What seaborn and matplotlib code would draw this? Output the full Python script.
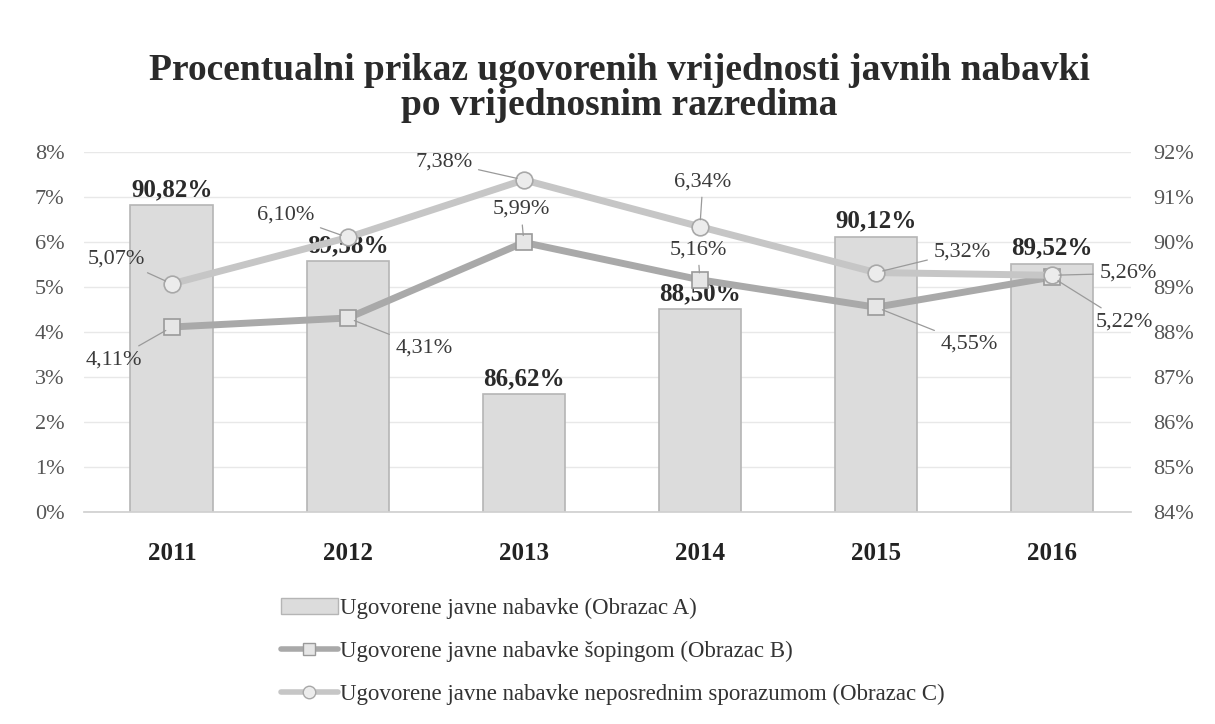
import numpy as np
import pandas as pd
import matplotlib
matplotlib.use("Agg")
import matplotlib.pyplot as plt
import seaborn as sns
from matplotlib.patches import Patch
from matplotlib.lines import Line2D

years = ["2011", "2012", "2013", "2014", "2015", "2016"]
obrazac_a = [90.82, 89.58, 86.62, 88.50, 90.12, 89.52]
obrazac_b = [4.11, 4.31, 5.99, 5.16, 4.55, 5.22]
obrazac_c = [5.07, 6.10, 7.38, 6.34, 5.32, 5.26]
left_ticks = [0, 1, 2, 3, 4, 5, 6, 7, 8]
right_ticks = [84, 85, 86, 87, 88, 89, 90, 91, 92]
legend_labels = [
    "Ugovorene javne nabavke (Obrazac A)",
    "Ugovorene javne nabavke šopingom (Obrazac B)",
    "Ugovorene javne nabavke neposrednim sporazumom (Obrazac C)",
]
title = "Procentualni prikaz ugovorenih vrijednosti javnih nabavki\npo vrijednosnim razredima"

sns.set_theme(style="white")
plt.rcParams["font.family"] = ["Liberation Serif", "DejaVu Serif"]

fig = plt.figure(figsize=(12.15, 7.24), dpi=100)
ax = fig.add_axes([0.069, 0.293, 0.862, 0.497])
ax2 = ax.twinx()

bar_color = "#dcdcdc"
bar_edge = "#b5b5b5"
b_color = "#a9a9a9"
c_color = "#c6c6c6"
txt = "#3a3a3a"

df_a = pd.DataFrame({"year": years, "val": obrazac_a})
sns.barplot(data=df_a, x="year", y="val", ax=ax2, color=bar_color, saturation=1,
            edgecolor=bar_edge, linewidth=1.2, width=0.47)

pos = np.arange(len(years))
df_l = pd.DataFrame({"pos": np.concatenate([pos, pos]),
                     "val": obrazac_b + obrazac_c,
                     "s": ["B"] * len(years) + ["C"] * len(years)})
sns.lineplot(data=df_l[df_l.s == "B"], x="pos", y="val", ax=ax, color=b_color,
             linewidth=5, marker="s", markersize=11, markerfacecolor="#e6e6e6",
             markeredgecolor="#9a9a9a", markeredgewidth=1.2)
sns.lineplot(data=df_l[df_l.s == "C"], x="pos", y="val", ax=ax, color=c_color,
             linewidth=5, marker="o", markersize=12, markerfacecolor="#ececec",
             markeredgecolor="#a8a8a8", markeredgewidth=1.2)

ax.set_zorder(ax2.get_zorder() + 1)
ax.patch.set_visible(False)

ax.set_xlim(-0.5, 5.45)
ax.set_ylim(0, 8)
ax2.set_ylim(84, 92)
ax.set_yticks(left_ticks)
ax.set_yticklabels([f"{t}%" for t in left_ticks])
ax2.set_yticks(right_ticks)
ax2.set_yticklabels([f"{t}%" for t in right_ticks])
ax.set_xticks(pos)
ax.set_xticklabels(years)
ax2.set_xticks(pos)
ax2.set_xticklabels(years)

ax2.grid(axis="y", color="#e8e8e8", linewidth=1)
ax.grid(False)
for a in (ax, ax2):
    for s in a.spines.values():
        s.set_visible(False)
    a.set_xlabel("")
    a.set_ylabel("")
ax2.spines["bottom"].set_visible(True)
ax2.spines["bottom"].set_color("#d0d0d0")

ax.tick_params(axis="y", length=0, labelsize=16, labelcolor="#555555", pad=14)
ax2.tick_params(axis="y", length=0, labelsize=16, labelcolor="#555555", pad=16)
ax.tick_params(axis="x", length=0, labelsize=18, pad=22)
ax2.tick_params(axis="x", length=0, labelbottom=False)
for lab in ax.get_xticklabels():
    lab.set_fontweight("bold")
    lab.set_color("#222222")

# bar labels
for i, v in enumerate(obrazac_a):
    ax2.annotate(f"{v:.2f}%".replace(".", ","), (i, v), xytext=(0, 4),
                 textcoords="offset pixels", ha="center", va="bottom",
                 fontsize=18, fontweight="bold", color="#2a2a2a")

# line labels with leader lines (offsets in pixels)
b_off = [(-58, -33), (76, -30), (-3, 33), (-2, 30), (93, -37), (72, -45)]
c_off = [(-55, 25), (-62, 22), (-80, 18), (3, 45), (86, 21), (76, 2)]
for vals, offs in ((obrazac_b, b_off), (obrazac_c, c_off)):
    for i, (v, (dx, dy)) in enumerate(zip(vals, offs)):
        ax.annotate(f"{v:.2f}%".replace(".", ","), (i, v), xytext=(dx, dy),
                    textcoords="offset pixels", ha="center", va="center",
                    fontsize=16, color=txt,
                    arrowprops=dict(arrowstyle="-", color="#9a9a9a", lw=0.9,
                                    shrinkA=2, shrinkB=5))

fig.text(0.51, 0.878, title, ha="center", va="center", fontsize=27,
         fontweight="bold", color="#2a2a2a", linespacing=1.0)

handles = [
    Patch(facecolor=bar_color, edgecolor=bar_edge),
    Line2D([0], [0], color=b_color, lw=4, marker="s", markersize=9,
           markerfacecolor="#e6e6e6", markeredgecolor="#9a9a9a"),
    Line2D([0], [0], color=c_color, lw=4, marker="o", markersize=9,
           markerfacecolor="#ececec", markeredgecolor="#a8a8a8"),
]
fig.legend(handles, legend_labels, loc="upper left", bbox_to_anchor=(0.214, 0.203),
           frameon=False, fontsize=16.5, labelspacing=0.95, handlelength=2.5,
           handletextpad=0.1, labelcolor="#333333")

fig.savefig("out.png", dpi=100)
